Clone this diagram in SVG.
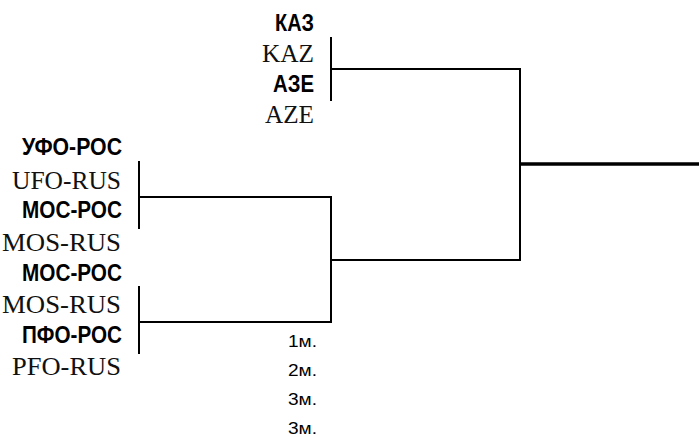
<svg xmlns="http://www.w3.org/2000/svg" width="699" height="437" viewBox="0 0 699 437">
<style>
.b{font-family:"Liberation Sans",Arial,sans-serif;font-weight:bold;font-size:24px;fill:#000;text-anchor:end}
.s{font-family:"Liberation Serif","Times New Roman",serif;font-size:25px;fill:#111;text-anchor:end}
.p{font-family:"Liberation Sans",Arial,sans-serif;font-size:17px;fill:#000;text-anchor:end}
.ln{stroke:#000;stroke-width:2;fill:none;stroke-linecap:square}
</style>
<rect width="699" height="437" fill="#fff"/>
<g id="team-kaz">
<text class="b" x="314" y="31" textLength="39" lengthAdjust="spacingAndGlyphs">КАЗ</text>
<text class="s" x="314" y="62" textLength="52" lengthAdjust="spacingAndGlyphs">KAZ</text>
</g>
<g id="team-aze">
<text class="b" x="314" y="92" textLength="41" lengthAdjust="spacingAndGlyphs">АЗЕ</text>
<text class="s" x="314" y="123" textLength="49" lengthAdjust="spacingAndGlyphs">AZE</text>
</g>
<g id="team-ufo">
<text class="b" x="122" y="155" textLength="100" lengthAdjust="spacingAndGlyphs">УФО-РОС</text>
<text class="s" x="121" y="189" textLength="109" lengthAdjust="spacingAndGlyphs">UFO-RUS</text>
</g>
<g id="team-mos1">
<text class="b" x="122" y="218" textLength="100" lengthAdjust="spacingAndGlyphs">МОС-РОС</text>
<text class="s" x="121" y="251" textLength="119" lengthAdjust="spacingAndGlyphs">MOS-RUS</text>
</g>
<g id="team-mos2">
<text class="b" x="122" y="281" textLength="100" lengthAdjust="spacingAndGlyphs">МОС-РОС</text>
<text class="s" x="121" y="313" textLength="119" lengthAdjust="spacingAndGlyphs">MOS-RUS</text>
</g>
<g id="team-pfo">
<text class="b" x="122" y="343" textLength="100" lengthAdjust="spacingAndGlyphs">ПФО-РОС</text>
<text class="s" x="121" y="375" textLength="109" lengthAdjust="spacingAndGlyphs">PFO-RUS</text>
</g>
<g id="places">
<text class="p" x="317" y="347" textLength="29" lengthAdjust="spacingAndGlyphs">1м.</text>
<text class="p" x="317" y="376" textLength="29" lengthAdjust="spacingAndGlyphs">2м.</text>
<text class="p" x="317" y="405" textLength="29" lengthAdjust="spacingAndGlyphs">3м.</text>
<text class="p" x="317" y="434" textLength="29" lengthAdjust="spacingAndGlyphs">3м.</text>
</g>
<g id="connectors">
<path class="ln" d="M331,38 V100 M331,69 H520"/>
<path class="ln" d="M139,162 V228 M139,197 H331"/>
<path class="ln" d="M139,287 V353 M139,322 H331"/>
<path class="ln" d="M331,197 V322 M331,260 H520"/>
<path class="ln" d="M520,69 V260"/>
<path d="M520,164 H699" stroke="#000" stroke-width="3.5" fill="none"/>
</g>
</svg>
